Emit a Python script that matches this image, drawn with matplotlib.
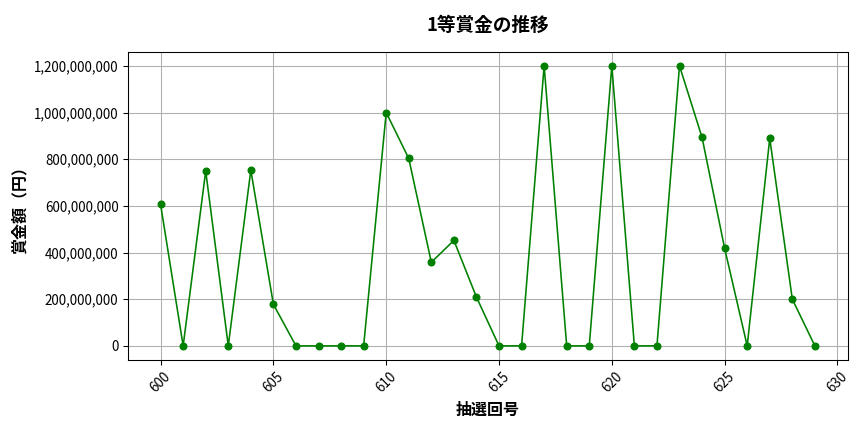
import matplotlib
matplotlib.use("Agg")
import matplotlib.pyplot as plt
from matplotlib.ticker import FuncFormatter

plt.rcParams['font.family'] = ['Noto Sans CJK JP', 'DejaVu Sans']

draws = list(range(600, 630))
prizes = [606000000, 0, 749000000, 0, 753000000, 178000000, 0, 0, 0, 0,
          1000000000, 803000000, 358000000, 452000000, 209000000, 0, 0, 1200000000, 0, 0,
          1200000000, 0, 0, 1200000000, 893000000, 418000000, 0, 889000000, 200000000, 0]

fig, ax = plt.subplots(figsize=(9, 4.5), dpi=96)
ax.plot(draws, prizes, marker='o', color='green', markersize=5, linewidth=1.2)
ax.set_title('1等賞金の推移', fontsize=14, fontweight='bold', pad=16)
ax.set_xlabel('抽選回号', fontsize=12, fontweight='bold', labelpad=5)
ax.set_ylabel('賞金額（円）', fontsize=12, fontweight='bold', labelpad=5)
ax.yaxis.set_major_formatter(FuncFormatter(lambda v, p: f'{int(v):,}'))
ax.tick_params(axis='both', labelsize=10)
plt.setp(ax.get_xticklabels(), rotation=45)
ax.grid(True)
fig.subplots_adjust(left=0.148, right=0.981, top=0.880, bottom=0.167)
fig.savefig('out.png', dpi=96)
